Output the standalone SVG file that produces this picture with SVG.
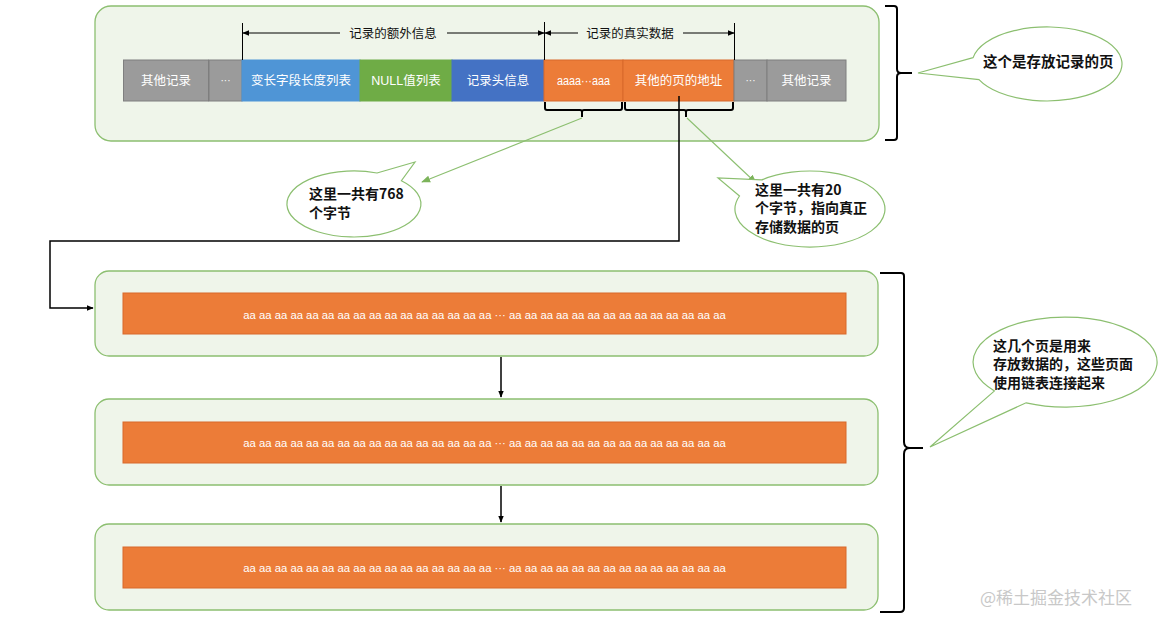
<svg xmlns="http://www.w3.org/2000/svg" width="1160" height="627" viewBox="0 0 1160 627">
<style>
.page{fill:#eff5ea;stroke:#8cbf70;stroke-width:1.3}
.cell{stroke-width:1}
.gray{fill:#9b9b9b;stroke:#7f7f7f}
.blue1{fill:#4f95d6;stroke:#4f95d6}
.green{fill:#6fac46;stroke:#6fac46}
.blue2{fill:#4472c4;stroke:#4472c4}
.orange{fill:#ec7c38;stroke:#d8692a}
.ct{font-family:"Liberation Sans","Noto Sans CJK SC",sans-serif;font-size:12.5px;fill:#ffffff;text-anchor:middle}
.dt{font-family:"Liberation Sans","Noto Sans CJK SC",sans-serif;font-size:11.3px;fill:#ffffff;text-anchor:middle}
.lab{font-family:"Liberation Sans","Noto Sans CJK SC",sans-serif;font-size:12.5px;fill:#111111;text-anchor:middle}
.co{font-family:"Noto Sans CJK SC","Liberation Sans",sans-serif;font-size:14px;font-weight:bold;fill:#111111}
.bubble{fill:#ffffff;stroke:#8cbf70;stroke-width:1.2}
.blk{fill:none;stroke:#000000;stroke-width:1.5}
.brace{fill:none;stroke:#000000;stroke-width:2}
.gl{fill:none;stroke:#8cbf70;stroke-width:1.1}
.wm{font-family:"Noto Sans CJK SC","Liberation Sans",sans-serif;font-size:17px;fill:#c8c8c8}
</style>
<defs>
<marker id="ab" viewBox="0 0 10 10" refX="9" refY="5" markerWidth="7" markerHeight="7" orient="auto-start-reverse" markerUnits="userSpaceOnUse">
<path d="M0,1 L10,5 L0,9 Z" fill="#000000"/>
</marker>
<marker id="ag" viewBox="0 0 10 10" refX="9" refY="5" markerWidth="9" markerHeight="9" orient="auto" markerUnits="userSpaceOnUse">
<path d="M0,1 L10,5 L0,9 Z" fill="#7cb35a"/>
</marker>
</defs>

<g id="record-page">
<rect class="page" x="95" y="6" width="784" height="135" rx="16"/>
</g>

<g id="cells">
<g id="cell-other1"><rect class="cell gray" x="123.5" y="60" width="85" height="41"/><text class="ct" x="166" y="85">其他记录</text></g>
<g id="cell-dots1"><rect class="cell gray" x="209" y="60" width="33" height="41"/><text class="ct" x="225.5" y="84" style="font-size:10px">···</text></g>
<g id="cell-varlen"><rect class="cell blue1" x="242" y="60" width="118" height="41"/><text class="ct" x="301" y="85">变长字段长度列表</text></g>
<g id="cell-null"><rect class="cell green" x="360" y="60" width="92" height="41"/><text class="ct" x="406" y="85">NULL值列表</text></g>
<g id="cell-header"><rect class="cell blue2" x="452" y="60" width="92" height="41"/><text class="ct" x="498" y="85">记录头信息</text></g>
<g id="cell-aaaa"><rect class="cell orange" x="544" y="60" width="79" height="41"/><text class="ct" x="583.5" y="85" textLength="53" lengthAdjust="spacingAndGlyphs">aaaa···aaa</text></g>
<g id="cell-addr"><rect class="cell orange" x="623" y="60" width="111" height="41"/><text class="ct" x="678.5" y="85">其他的页的地址</text></g>
<g id="cell-dots2"><rect class="cell gray" x="734" y="60" width="33" height="41"/><text class="ct" x="750.5" y="84" style="font-size:10px">···</text></g>
<g id="cell-other2"><rect class="cell gray" x="767" y="60" width="79" height="41"/><text class="ct" x="806.5" y="85">其他记录</text></g>
</g>

<g id="dimension-labels">
<line class="blk" x1="242.5" y1="23" x2="242.5" y2="60" style="stroke-width:1"/>
<line class="blk" x1="544.5" y1="22" x2="544.5" y2="60" style="stroke-width:1"/>
<line class="blk" x1="734.5" y1="23" x2="734.5" y2="60" style="stroke-width:1"/>
<line class="blk" x1="340" y1="33" x2="243" y2="33" style="stroke-width:1" marker-end="url(#ab)"/>
<line class="blk" x1="447" y1="33" x2="544" y2="33" style="stroke-width:1" marker-end="url(#ab)"/>
<text class="lab" x="393" y="37.5">记录的额外信息</text>
<line class="blk" x1="578" y1="33" x2="545" y2="33" style="stroke-width:1" marker-end="url(#ab)"/>
<line class="blk" x1="683" y1="33" x2="734" y2="33" style="stroke-width:1" marker-end="url(#ab)"/>
<text class="lab" x="630" y="37.5">记录的真实数据</text>
</g>

<g id="small-braces">
<path class="brace" d="M545,102 L545,108 Q545,110 547,110 L580,110 Q582,110 582,112 L582,117 M582,112 Q582,110 584,110 L620,110 Q622,110 622,108 L622,102"/>
<path class="brace" d="M625,102 L625,108 Q625,110 627,110 L684,110 Q686,110 686,112 L686,117 M686,112 Q686,110 688,110 L731,110 Q733,110 733,108 L733,102"/>
</g>

<g id="big-brace-top">
<path class="brace" d="M885,6 L894,6 Q897,6 897,9 L897,69 Q897,73 901,73 L912,73 M901,73 Q897,73 897,77 L897,137 Q897,140 894,140 L885,140"/>
</g>

<g id="big-brace-bottom">
<path class="brace" d="M880,273 L901,273 Q904,273 904,276 L904,442 Q904,448 910,448 L923,448 M910,448 Q904,448 904,454 L904,608 Q904,612 900,612 L880,612"/>
</g>

<g id="data-page-1">
<rect class="page" x="95" y="271" width="783" height="85" rx="14"/>
<rect class="orange" x="123" y="293" width="723" height="41" style="stroke-width:1"/>
<text class="dt" x="484.5" y="319">aa aa aa aa aa aa aa aa aa aa aa aa aa aa aa aa ··· aa aa aa aa aa aa aa aa aa aa aa aa aa aa</text>
</g>
<g id="data-page-2">
<rect class="page" x="95" y="399" width="783" height="86" rx="14"/>
<rect class="orange" x="123" y="422" width="723" height="41" style="stroke-width:1"/>
<text class="dt" x="484.5" y="447">aa aa aa aa aa aa aa aa aa aa aa aa aa aa aa aa ··· aa aa aa aa aa aa aa aa aa aa aa aa aa aa</text>
</g>
<g id="data-page-3">
<rect class="page" x="95" y="524" width="783" height="86" rx="14"/>
<rect class="orange" x="123" y="547" width="723" height="41" style="stroke-width:1"/>
<text class="dt" x="484.5" y="572">aa aa aa aa aa aa aa aa aa aa aa aa aa aa aa aa ··· aa aa aa aa aa aa aa aa aa aa aa aa aa aa</text>
</g>

<g id="connectors">
<path class="blk" d="M679,96 L679,241 L50,241 L50,308 L93,308" marker-end="url(#ab)"/>
<line class="blk" x1="501" y1="357" x2="501" y2="397" marker-end="url(#ab)"/>
<line class="blk" x1="501" y1="486" x2="501" y2="522" marker-end="url(#ab)"/>
<line class="gl" x1="582" y1="118" x2="422" y2="182" marker-end="url(#ag)"/>
<line class="gl" x1="687" y1="118" x2="756" y2="183" marker-end="url(#ag)"/>
</g>

<g id="callout-768">
<path class="bubble" d="M377,173 L415,162 L401.4,180.7 A67 33 0 1 1 377,173 Z"/>
<text class="co" x="309" y="198.5">这里一共有768</text>
<text class="co" x="309" y="217.5">个字节</text>
</g>

<g id="callout-20">
<path class="bubble" d="M739.5,196 L718,178 L761.8,179.9 A75 38 0 1 1 739.5,196 Z"/>
<text class="co" x="755" y="194.5">这里一共有20</text>
<text class="co" x="755" y="213">个字节，指向真正</text>
<text class="co" x="755" y="231.5">存储数据的页</text>
</g>

<g id="callout-record-page">
<path class="bubble" d="M973.1,57.6 L918,73 L979,79.6 A75 37 0 1 0 973.1,57.6 Z"/>
<text class="co" x="983" y="67" style="font-size:14.5px">这个是存放记录的页</text>
</g>

<g id="callout-data-pages">
<path class="bubble" d="M994.5,390.9 L930,447 L1026.1,402.8 A92 45 0 1 0 994.5,390.9 Z"/>
<text class="co" x="993" y="350.5">这几个页是用来</text>
<text class="co" x="993" y="369">存放数据的，这些页面</text>
<text class="co" x="993" y="387.5">使用链表连接起来</text>
</g>

<text class="wm" x="980" y="604">@稀土掘金技术社区</text>
</svg>
